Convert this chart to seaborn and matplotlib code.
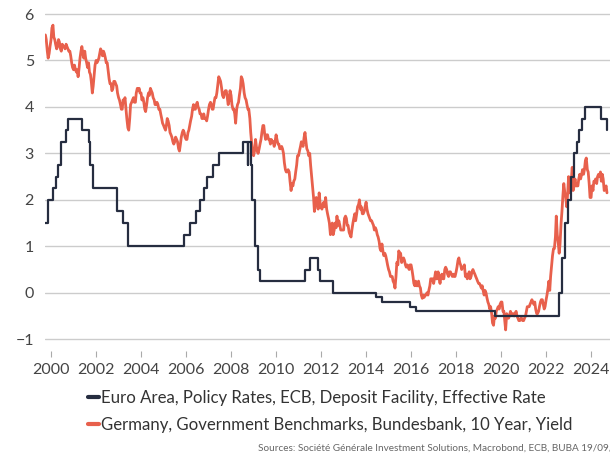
import numpy as np
import pandas as pd
import matplotlib
matplotlib.use("Agg")
import matplotlib.pyplot as plt
import matplotlib.dates as mdates
import seaborn as sns

sns.set_theme(style="white")
plt.rcParams['font.family'] = ['Lato', 'DejaVu Sans']

# ECB deposit facility rate, step changes (effective dates)
ecb_dates = ['1999-10-01', '1999-11-05', '2000-02-04', '2000-03-17', '2000-04-28', '2000-06-09',
             '2000-09-01', '2000-10-06', '2001-05-11', '2001-08-31', '2001-09-18', '2001-11-09',
             '2002-12-06', '2003-03-07', '2003-06-06', '2005-12-06', '2006-03-08', '2006-06-15',
             '2006-08-09', '2006-10-11', '2006-12-13', '2007-03-14', '2007-06-13', '2008-07-09',
             '2008-10-08', '2008-10-09', '2008-11-12', '2008-12-10', '2009-01-21', '2009-03-11',
             '2009-04-08', '2011-04-13', '2011-07-13', '2011-11-09', '2011-12-14', '2012-07-11',
             '2014-06-11', '2014-09-10', '2015-12-09', '2016-03-16', '2019-09-18', '2022-07-27',
             '2022-09-14', '2022-11-02', '2022-12-21', '2023-02-08', '2023-03-22', '2023-05-10',
             '2023-06-21', '2023-08-02', '2023-09-20', '2024-06-12', '2024-09-18', '2024-09-19']
ecb_rate = [1.5, 2.0, 2.25, 2.5, 2.75, 3.25, 3.5, 3.75, 3.5, 3.25, 2.75, 2.25,
            1.75, 1.5, 1.0, 1.25, 1.5, 1.75, 2.0, 2.25, 2.5, 2.75, 3.0, 3.25,
            2.75, 3.25, 2.75, 2.0, 1.0, 0.5, 0.25, 0.5, 0.75, 0.5, 0.25, 0.0,
            -0.1, -0.2, -0.3, -0.4, -0.5, 0.0, 0.75, 1.5, 2.0, 2.5, 3.0, 3.25,
            3.5, 3.75, 4.0, 3.75, 3.5, 3.5]

# Bund 10y yield, read twice a month (1st and 15th) from Oct 1999
bund_1999 = [5.55, 5.45, 5.2, 5.05, 5.15, 5.3]
bund_2000 = [5.45, 5.7, 5.76, 5.5, 5.45, 5.35, 5.25, 5.3, 5.45, 5.4, 5.25, 5.2,
             5.35, 5.3, 5.3, 5.25, 5.35, 5.3, 5.25, 5.2, 5.2, 5.1, 4.95, 4.85]
bund_2001 = [4.8, 4.9, 4.8, 4.75, 4.8, 4.65, 4.85, 5.05, 5.2, 5.3, 5.15, 5.05,
             5.2, 5.05, 4.95, 4.85, 4.95, 4.75, 4.7, 4.55, 4.3, 4.45, 4.7, 4.9]
bund_2002 = [5.0, 4.95, 5.0, 5.05, 5.15, 5.25, 5.2, 5.1, 5.2, 5.15, 5.05, 4.95,
             4.95, 4.8, 4.6, 4.5, 4.5, 4.35, 4.4, 4.55, 4.55, 4.5, 4.45, 4.3]
bund_2003 = [4.2, 4.15, 4.05, 3.95, 3.95, 4.15, 4.1, 4.2, 3.95, 3.75, 3.55, 3.5,
             3.75, 4.05, 4.1, 4.15, 4.2, 4.1, 4.1, 4.3, 4.4, 4.35, 4.4, 4.3]
bund_2004 = [4.3, 4.15, 4.2, 4.1, 3.95, 3.9, 4.05, 4.2, 4.3, 4.25, 4.4, 4.35,
             4.3, 4.2, 4.15, 4.05, 4.05, 4.1, 4.05, 3.95, 3.95, 3.85, 3.75, 3.65]
bund_2005 = [3.6, 3.55, 3.5, 3.6, 3.75, 3.7, 3.6, 3.45, 3.4, 3.35, 3.25, 3.2,
             3.25, 3.35, 3.3, 3.25, 3.1, 3.05, 3.2, 3.35, 3.45, 3.5, 3.45, 3.35]
bund_2006 = [3.3, 3.3, 3.45, 3.5, 3.6, 3.7, 3.8, 3.95, 4.05, 3.95, 3.95, 4.05,
             4.1, 4.0, 3.95, 3.85, 3.85, 3.75, 3.75, 3.85, 3.75, 3.75, 3.7, 3.8]
bund_2007 = [3.95, 4.05, 4.1, 4.05, 3.95, 3.95, 4.1, 4.2, 4.2, 4.3, 4.5, 4.65,
             4.6, 4.55, 4.4, 4.25, 4.2, 4.3, 4.35, 4.35, 4.2, 4.05, 4.15, 4.35]
bund_2008 = [4.25, 4.05, 3.95, 3.95, 3.85, 3.65, 3.95, 4.05, 4.1, 4.25, 4.4, 4.65,
             4.6, 4.5, 4.3, 4.2, 4.15, 4.05, 3.95, 3.95, 3.75, 3.45, 3.2, 3.0]
bund_2009 = [2.95, 3.05, 3.3, 3.15, 3.05, 3.0, 3.1, 3.2, 3.3, 3.45, 3.6, 3.6,
             3.4, 3.3, 3.4, 3.4, 3.3, 3.3, 3.2, 3.3, 3.25, 3.25, 3.15, 3.25]
bund_2010 = [3.4, 3.3, 3.2, 3.2, 3.1, 3.1, 3.15, 3.1, 3.0, 2.8, 2.65, 2.6,
             2.6, 2.65, 2.6, 2.4, 2.2, 2.35, 2.3, 2.4, 2.45, 2.6, 2.75, 2.95]
bund_2011 = [2.95, 3.05, 3.15, 3.25, 3.2, 3.15, 3.35, 3.45, 3.25, 3.1, 3.05, 2.95,
             3.0, 2.75, 2.5, 2.3, 2.05, 1.75, 1.9, 2.05, 2.0, 1.8, 2.15, 1.95]
bund_2012 = [1.85, 1.8, 1.9, 1.95, 1.85, 2.05, 1.8, 1.7, 1.6, 1.5, 1.25, 1.45,
             1.5, 1.25, 1.35, 1.5, 1.4, 1.65, 1.45, 1.55, 1.45, 1.35, 1.35, 1.35]
bund_2013 = [1.35, 1.6, 1.65, 1.6, 1.45, 1.45, 1.3, 1.25, 1.2, 1.35, 1.5, 1.6,
             1.7, 1.55, 1.7, 1.85, 1.9, 2.0, 1.8, 1.85, 1.7, 1.7, 1.75, 1.85]
bund_2014 = [1.95, 1.8, 1.7, 1.65, 1.6, 1.55, 1.55, 1.5, 1.45, 1.35, 1.4, 1.35,
             1.25, 1.2, 1.1, 0.95, 0.9, 1.05, 0.9, 0.8, 0.85, 0.8, 0.7, 0.6]
bund_2015 = [0.5, 0.45, 0.35, 0.35, 0.35, 0.25, 0.2, 0.1, 0.35, 0.65, 0.6, 0.9,
             0.85, 0.85, 0.65, 0.7, 0.75, 0.7, 0.6, 0.55, 0.6, 0.55, 0.5, 0.6]
bund_2016 = [0.6, 0.5, 0.35, 0.2, 0.15, 0.25, 0.15, 0.15, 0.25, 0.15, 0.1, -0.05,
             -0.12, -0.05, -0.1, -0.05, -0.05, 0.0, -0.05, 0.05, 0.15, 0.3, 0.3, 0.3]
bund_2017 = [0.2, 0.3, 0.45, 0.3, 0.3, 0.45, 0.3, 0.2, 0.35, 0.4, 0.3, 0.3,
             0.5, 0.55, 0.5, 0.4, 0.35, 0.45, 0.45, 0.4, 0.35, 0.4, 0.35, 0.35]
bund_2018 = [0.45, 0.55, 0.7, 0.75, 0.65, 0.6, 0.5, 0.55, 0.55, 0.6, 0.35, 0.4,
             0.3, 0.35, 0.45, 0.3, 0.35, 0.45, 0.5, 0.45, 0.4, 0.35, 0.3, 0.25]
bund_2019 = [0.2, 0.2, 0.15, 0.1, 0.15, 0.05, -0.05, 0.05, 0.0, -0.1, -0.2, -0.25,
             -0.35, -0.3, -0.45, -0.65, -0.7, -0.5, -0.55, -0.4, -0.35, -0.3, -0.35, -0.25]
bund_2020 = [-0.2, -0.2, -0.4, -0.4, -0.6, -0.8, -0.45, -0.5, -0.55, -0.5, -0.4, -0.45,
             -0.45, -0.45, -0.5, -0.45, -0.4, -0.5, -0.55, -0.6, -0.6, -0.55, -0.55, -0.6]
bund_2021 = [-0.6, -0.55, -0.5, -0.4, -0.3, -0.3, -0.3, -0.25, -0.2, -0.15, -0.2, -0.25,
             -0.2, -0.35, -0.45, -0.45, -0.4, -0.3, -0.2, -0.15, -0.15, -0.25, -0.35, -0.3]
bund_2022 = [-0.15, -0.05, 0.1, 0.25, 0.05, 0.35, 0.6, 0.8, 0.95, 0.95, 1.2, 1.65,
             1.25, 1.1, 0.85, 1.05, 1.5, 1.75, 2.1, 2.35, 2.15, 2.05, 1.85, 2.1]
bund_2023 = [2.5, 2.15, 2.2, 2.45, 2.7, 2.2, 2.3, 2.45, 2.3, 2.3, 2.3, 2.45,
             2.55, 2.45, 2.55, 2.65, 2.55, 2.65, 2.85, 2.9, 2.65, 2.6, 2.35, 2.05]
bund_2024 = [2.05, 2.3, 2.2, 2.4, 2.4, 2.45, 2.35, 2.5, 2.55, 2.5, 2.6, 2.4,
             2.55, 2.45, 2.2, 2.25, 2.3, 2.15]

bund = (bund_1999 + bund_2000 + bund_2001 + bund_2002 + bund_2003 + bund_2004 + bund_2005
        + bund_2006 + bund_2007 + bund_2008 + bund_2009 + bund_2010 + bund_2011 + bund_2012
        + bund_2013 + bund_2014 + bund_2015 + bund_2016 + bund_2017 + bund_2018 + bund_2019
        + bund_2020 + bund_2021 + bund_2022 + bund_2023 + bund_2024)
bund_dates = pd.date_range('1999-10-01', periods=len(bund), freq='SMS')

ecb_label = 'Euro Area, Policy Rates, ECB, Deposit Facility, Effective Rate'
bund_label = 'Germany, Government Benchmarks, Bundesbank, 10 Year, Yield'
source = 'Sources: Société Générale Investment Solutions, Macrobond, ECB, BUBA 19/09/2024'

navy = '#262d40'
red = '#e8604c'

fig = plt.figure(figsize=(6.1, 4.54), dpi=100)
ax = fig.add_axes([0.0738, 0.2273, 0.9262, 0.7674])

sns.lineplot(x=pd.to_datetime(ecb_dates), y=ecb_rate, ax=ax, color=navy, linewidth=1.6,
             drawstyle='steps-post', label=ecb_label, zorder=3)
sns.lineplot(x=bund_dates, y=bund, ax=ax, color=red, linewidth=2.0, label=bund_label, zorder=2)

ax.set_xlim(pd.Timestamp('1999-09-25'), pd.Timestamp('2024-11-03'))
ax.set_ylim(-1.25, 6.25)
ax.set_yticks(range(-1, 7))
ax.xaxis.set_major_locator(mdates.YearLocator(2))
ax.xaxis.set_major_formatter(mdates.DateFormatter('%Y'))
ax.yaxis.grid(True, color='#cccccc', linewidth=1)
ax.xaxis.grid(False)
for s in ax.spines.values():
    s.set_visible(False)
ax.tick_params(axis='y', length=0, pad=8, labelsize=11.5, labelcolor='#444444')
ax.tick_params(axis='x', bottom=True, direction='out', length=4, width=0.8, color='#aaaaaa',
               pad=5, labelsize=11.5, labelcolor='#444444')
ax.set_xlabel('')
ax.set_ylabel('')

handles, labels = ax.get_legend_handles_labels()
ax.get_legend().remove()
leg = fig.legend(handles, labels, loc='center', bbox_to_anchor=(0.541, 1 - 411.5 / 454),
                 frameon=False, fontsize=12.1, handlelength=0.65, handletextpad=0.15,
                 labelspacing=0.68, labelcolor='#333333')
for h in leg.legend_handles:
    h.set_linewidth(3)

fig.text(258 / 610, 1 - 448 / 454, source, fontsize=7.2, color='#666666', va='center', ha='left')

fig.savefig('out.png', dpi=100)
